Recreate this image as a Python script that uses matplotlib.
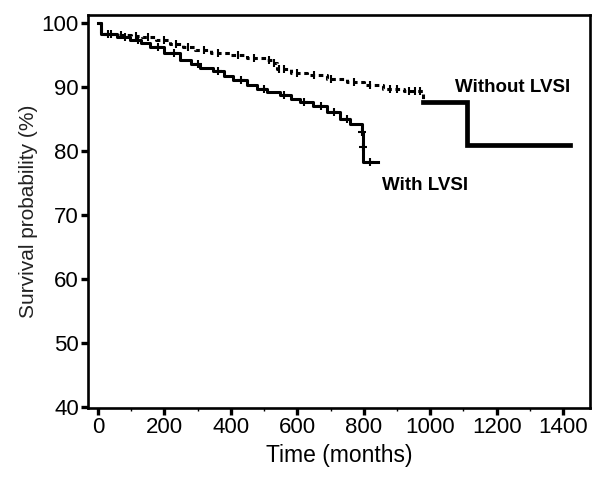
import numpy as np
import matplotlib
matplotlib.use("Agg")
import matplotlib.pyplot as plt
from matplotlib.ticker import MultipleLocator

plt.rcParams['font.family'] = ['Liberation Sans', 'DejaVu Sans']

# Kaplan-Meier steps (time in months, survival in %)
without_t = [0, 9, 57, 100, 132, 175, 217, 255, 292, 340, 397, 450, 509, 524, 539,
             580, 629, 690, 750, 800, 858, 920, 979]
without_s = [100, 98.3, 98.1, 98.0, 97.9, 97.4, 96.8, 96.3, 95.8, 95.4, 95.0, 94.6, 94.2,
             93.8, 92.8, 92.3, 91.9, 91.3, 90.8, 90.3, 89.8, 89.4, 87.7]
without_censor = [40, 70, 115, 150, 200, 235, 270, 320, 360, 420, 470, 515, 530, 545,
                  560, 600, 650, 700, 770, 820, 880, 900, 935, 955, 970]

# late part of the "without" curve, drawn thick
tail_t = [979, 1111, 1421]
tail_s = [87.7, 81.0, 81.0]

with_t = [0, 9, 57, 96, 130, 157, 200, 247, 280, 307, 346, 380, 407, 449, 480, 509,
          548, 580, 608, 647, 690, 729, 759, 795, 797, 799]
with_s = [100, 98.3, 97.9, 97.4, 96.9, 96.3, 95.3, 94.3, 93.6, 93.0, 92.5, 91.8, 91.1,
          90.4, 89.8, 89.3, 88.8, 88.2, 87.7, 87.1, 86.2, 85.1, 84.2, 83.0, 80.7, 78.3]
with_end = 843
with_censor = [30, 80, 120, 180, 230, 300, 360, 430, 500, 560, 620, 670, 710, 750,
               796, 798, 820]

xticks = [0, 200, 400, 600, 800, 1000, 1200, 1400]
yticks = [40, 50, 60, 70, 80, 90, 100]


def step_value(ts, ss, c):
    i = np.searchsorted(ts, c, side='right') - 1
    return np.asarray(ss)[i]


fig = plt.figure(figsize=(5.97, 4.79), dpi=100)
ax = fig.add_axes([0.1474, 0.1482, 0.8409, 0.8205])

# without LVSI: dotted step curve + censor ticks
ax.step(without_t + [985], without_s + [without_s[-1]], where='post', color='black',
        lw=2.2, ls=(0, (1.5, 1.2)))
ax.plot(without_censor, step_value(without_t, without_s, without_censor), ls='none',
        marker='|', ms=6, mew=1.5, color='black')
ax.step(tail_t, tail_s, where='post', color='black', lw=3.4, solid_joinstyle='miter')

# with LVSI: solid step curve
ax.step(with_t + [with_end], with_s + [with_s[-1]], where='post', color='black', lw=2.2)
ax.plot(with_censor, step_value(with_t, with_s, with_censor), ls='none',
        marker='+', ms=6, mew=1.5, color='black')

ax.text(1075, 90.0, 'Without LVSI', fontsize=13.5, fontweight='bold', va='center', ha='left')
ax.text(855, 74.7, 'With LVSI', fontsize=13.5, fontweight='bold', va='center', ha='left')

ax.set_xlim(-30, 1481)
ax.set_ylim(39.85, 101.3)
ax.set_xticks(xticks)
ax.set_yticks(yticks)
ax.xaxis.set_minor_locator(MultipleLocator(100))
ax.tick_params(axis='both', which='major', direction='out', length=5, width=2.4,
               labelsize=16, pad=1.5)
ax.tick_params(axis='both', which='minor', direction='out', length=2, width=1)
for sp in ax.spines.values():
    sp.set_linewidth(1.9)

ax.set_xlabel('Time (months)', fontsize=16.5, labelpad=4)
ax.set_ylabel('Survival probability (%)', fontsize=15, labelpad=3, color='#222222')

fig.savefig('out.png', dpi=100)
